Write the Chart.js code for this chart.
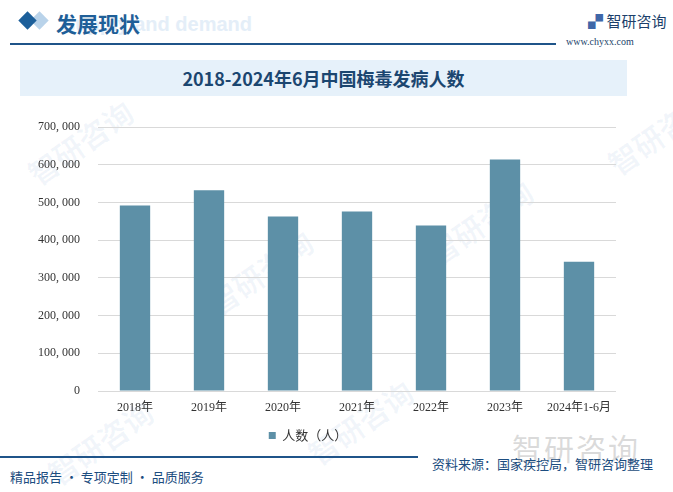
<!DOCTYPE html>
<html lang="zh">
<head>
  <meta charset="UTF-8">
  <title>2018-2024年6月中国梅毒发病人数</title>
  <script src="https://cdn.jsdelivr.net/npm/chart.js"></script>
  <style>
    html, body { margin: 0; padding: 0; background: #fff; }
    body { width: 673px; height: 492px; position: relative; overflow: hidden; font-family: "Noto Sans CJK SC", sans-serif; }
    .abs { position: absolute; white-space: nowrap; }
    .wm { position: absolute; color: rgba(40,110,180,0.06); font-size: 30px; font-weight: bold; transform: rotate(-35deg); white-space: nowrap; }
    /* header */
    #dia1 { left: 21px; top: 14px; width: 13px; height: 13px; background: #1c5f9a; transform: rotate(45deg); }
    #dia2 { left: 33px; top: 14px; width: 13px; height: 13px; background: #b9d3ea; transform: rotate(45deg); }
    #head { left: 56px; top: 8px; font-size: 21px; font-weight: bold; color: #1f5f98; }
    #ghost { left: 62px; top: 13px; font-family: "Liberation Sans", sans-serif; font-size: 20px; font-weight: bold; color: #e4eef8; }
    #hline { left: 10px; top: 43px; width: 546px; height: 2px; background: #1f5489; }
    #logo { left: 588px; top: 10px; font-size: 15px; color: #1c3f6b; }
    #url { left: 566px; top: 36px; font-family: "Liberation Serif", serif; font-size: 10px; color: #1c3f6b; }
    #band { left: 20px; top: 60px; width: 607px; height: 36px; background: #e6f1fa; }
    #title { left: 20px; top: 60px; width: 607px; line-height: 36px; text-align: center; font-size: 18px; font-weight: bold; color: #1b4670; }
    /* footer */
    #fline { left: 0; top: 456px; width: 418px; height: 2px; background: #1f5489; }
    #foot { left: 10px; top: 467px; font-size: 13px; color: #1c4d80; }
    #src { left: 432px; top: 454px; font-size: 13px; color: #1c4d80; }
    #bigwm { left: 512px; top: 425px; font-size: 30px; color: rgba(150,150,150,0.35); letter-spacing: 2px; }
    #chartBox { position: absolute; left: 0; top: 100px; width: 673px; height: 352px; }
  </style>
</head>
<body>
  <div class="wm" style="left:20px;top:120px">智研咨询</div>
  <div class="wm" style="left:200px;top:250px">智研咨询</div>
  <div class="wm" style="left:420px;top:200px">智研咨询</div>
  <div class="wm" style="left:600px;top:110px">智研咨询</div>
  <div class="wm" style="left:40px;top:420px">智研咨询</div>
  <div class="wm" style="left:300px;top:400px">智研咨询</div>

  <div class="abs" id="ghost">Supply and demand</div>
  <div class="abs" id="dia2"></div>
  <div class="abs" id="dia1"></div>
  <div class="abs" id="head">发展现状</div>
  <div class="abs" id="hline"></div>
  <div class="abs" id="logo"><span style="color:#3f67a8;font-weight:bold">▞</span> 智研咨询</div>
  <div class="abs" id="url">www.chyxx.com</div>
  <div class="abs" id="band"></div>
  <div class="abs" id="title">2018-2024年6月中国梅毒发病人数</div>

  <div class="abs" id="bigwm">智研咨询</div>
  <div class="abs" id="fline"></div>
  <div class="abs" id="foot">精品报告 · 专项定制 · 品质服务</div>
  <div class="abs" id="src">资料来源：国家疾控局，智研咨询整理</div>

  <div id="chartBox"><canvas id="cases"></canvas></div>

  <script>
    const categories = ['2018年', '2019年', '2020年', '2021年', '2022年', '2023年', '2024年1-6月'];
    const cases = [492000, 532000, 463000, 476000, 439000, 614000, 343000];
    const seriesName = '人数（人）';
    const yMax = 700000;
    const yStep = 100000;

    const tickFont = { family: '"Liberation Serif", "Noto Sans CJK SC", serif', size: 12 };

    new Chart(document.getElementById('cases'), {
      type: 'bar',
      data: {
        labels: categories,
        datasets: [{
          label: seriesName,
          data: cases,
          backgroundColor: '#5d90a7',
          categoryPercentage: 1,
          barPercentage: 0.41
        }]
      },
      options: {
        responsive: true,
        maintainAspectRatio: false,
        animation: false,
        layout: { padding: { top: 27, right: 57, left: 0, bottom: 0 } },
        plugins: {
          legend: {
            position: 'bottom',
            labels: {
              boxWidth: 7, boxHeight: 7, padding: 12,
              color: '#333',
              font: { family: '"Noto Sans CJK SC", sans-serif', size: 13 }
            }
          },
          tooltip: { enabled: false }
        },
        scales: {
          x: {
            grid: { display: false },
            border: { display: false },
            ticks: { color: '#333', font: tickFont, padding: 2, maxRotation: 0 },
            afterFit: s => { s.height = 26; }
          },
          y: {
            min: 0, max: yMax,
            grid: { color: '#d9d9d9', drawTicks: false },
            border: { display: false },
            ticks: {
              stepSize: yStep, color: '#333', font: tickFont, padding: 18,
              callback: v => v.toLocaleString('en-US').replace(',', ', ')
            },
            afterFit: s => { s.width = 98; }
          }
        }
      }
    });
  </script>
</body>
</html>
